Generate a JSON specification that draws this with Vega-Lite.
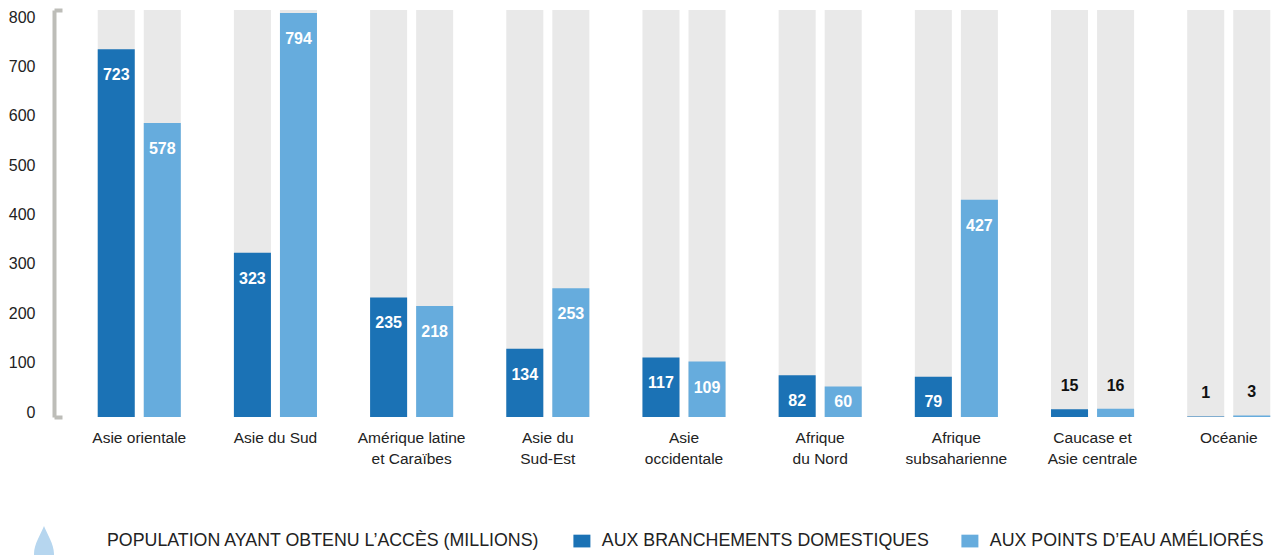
{
  "$schema": "https://vega.github.io/schema/vega-lite/v6.json",
  "autosize": "none",
  "width": 1178,
  "height": 407,
  "padding": {"left": 95, "top": 10, "right": 0, "bottom": 138},
  "background": "white",
  "config": {
    "view": {"stroke": null},
    "font": "Liberation Sans, sans-serif"
  },
  "data": {
    "values": [
      {"region": "Asie orientale", "series": "AUX BRANCHEMENTS DOMESTIQUES", "value": 723},
      {"region": "Asie orientale", "series": "AUX POINTS D’EAU AMÉLIORÉS", "value": 578},
      {"region": "Asie du Sud", "series": "AUX BRANCHEMENTS DOMESTIQUES", "value": 323},
      {"region": "Asie du Sud", "series": "AUX POINTS D’EAU AMÉLIORÉS", "value": 794},
      {"region": "Amérique latine et Caraïbes", "series": "AUX BRANCHEMENTS DOMESTIQUES", "value": 235},
      {"region": "Amérique latine et Caraïbes", "series": "AUX POINTS D’EAU AMÉLIORÉS", "value": 218},
      {"region": "Asie du Sud-Est", "series": "AUX BRANCHEMENTS DOMESTIQUES", "value": 134},
      {"region": "Asie du Sud-Est", "series": "AUX POINTS D’EAU AMÉLIORÉS", "value": 253},
      {"region": "Asie occidentale", "series": "AUX BRANCHEMENTS DOMESTIQUES", "value": 117},
      {"region": "Asie occidentale", "series": "AUX POINTS D’EAU AMÉLIORÉS", "value": 109},
      {"region": "Afrique du Nord", "series": "AUX BRANCHEMENTS DOMESTIQUES", "value": 82},
      {"region": "Afrique du Nord", "series": "AUX POINTS D’EAU AMÉLIORÉS", "value": 60},
      {"region": "Afrique subsaharienne", "series": "AUX BRANCHEMENTS DOMESTIQUES", "value": 79},
      {"region": "Afrique subsaharienne", "series": "AUX POINTS D’EAU AMÉLIORÉS", "value": 427},
      {"region": "Caucase et Asie centrale", "series": "AUX BRANCHEMENTS DOMESTIQUES", "value": 15},
      {"region": "Caucase et Asie centrale", "series": "AUX POINTS D’EAU AMÉLIORÉS", "value": 16},
      {"region": "Océanie", "series": "AUX BRANCHEMENTS DOMESTIQUES", "value": 1},
      {"region": "Océanie", "series": "AUX POINTS D’EAU AMÉLIORÉS", "value": 3}
    ]
  },
  "encoding": {
    "x": {
      "field": "region", "type": "nominal", "sort": null,
      "scale": {"paddingInner": 0.39, "paddingOuter": 0.02},
      "axis": {
        "title": null, "domain": false, "ticks": false, "labelAngle": 0,
        "labelPadding": 13, "labelFontSize": 15.5, "labelColor": "#222222",
        "labelLineHeight": 21, "labelBaseline": "top",
        "labelExpr": "{'Amérique latine et Caraïbes': ['Amérique latine', 'et Caraïbes'], 'Asie du Sud-Est': ['Asie du', 'Sud-Est'], 'Asie occidentale': ['Asie', 'occidentale'], 'Afrique du Nord': ['Afrique', 'du Nord'], 'Afrique subsaharienne': ['Afrique', 'subsaharienne'], 'Caucase et Asie centrale': ['Caucase et', 'Asie centrale']}[datum.value] || datum.value"
      }
    },
    "xOffset": {
      "field": "series", "type": "nominal", "sort": null,
      "scale": {"paddingInner": 0.196, "paddingOuter": 0}
    }
  },
  "layer": [
    {
      "mark": {"type": "bar", "color": "#e9e9e9"},
      "encoding": {
        "y": {
          "datum": 800, "type": "quantitative",
          "scale": {"domain": [0, 800], "nice": false},
          "axis": null
        }
      }
    },
    {
      "mark": {"type": "bar"},
      "encoding": {
        "y": {
          "field": "value", "type": "quantitative",
          "scale": {"domain": [0, 800], "nice": false},
          "axis": {
            "orient": "left", "title": null, "labels": false, "grid": false,
            "values": [0, 800], "offset": 41,
            "domain": true, "domainColor": "#bdbdb8", "domainWidth": 4,
            "ticks": true, "tickSize": -8, "tickWidth": 4, "tickColor": "#bdbdb8"
          }
        },
        "color": {
          "field": "series", "type": "nominal", "sort": null,
          "scale": {
            "domain": ["AUX BRANCHEMENTS DOMESTIQUES", "AUX POINTS D’EAU AMÉLIORÉS"],
            "range": ["#1b72b5", "#66acdd"]
          },
          "legend": {
            "orient": "none", "direction": "horizontal",
            "legendX": 12, "legendY": 522,
            "title": "POPULATION AYANT OBTENU L’ACCÈS (MILLIONS)",
            "titleOrient": "left", "titleFontWeight": "normal", "titleFontSize": 17.8,
            "titleColor": "#222222", "titlePadding": 33, "titleBaseline": "middle",
            "titleLimit": 2000, "labelLimit": 2000,
            "labelFontSize": 17.8, "labelColor": "#222222", "labelOffset": 11,
            "columnPadding": 32,
            "symbolType": "M-1,-0.75H1V0.75H-1Z", "symbolSize": 289,
            "symbolStrokeWidth": 0, "symbolOpacity": 1
          }
        }
      }
    },
    {
      "transform": [{"filter": "datum.value > 500"}],
      "mark": {"type": "point", "opacity": 0, "filled": true, "color": "#b6d6ef"},
      "encoding": {
        "y": {
          "field": "value", "type": "quantitative",
          "scale": {"domain": [-10.1, 814.2], "nice": false, "zero": false},
          "axis": {
            "orient": "left", "title": null, "domain": false, "ticks": false, "tickSize": 0,
            "grid": false, "values": [0, 100, 200, 300, 400, 500, 600, 700, 800],
            "labelPadding": 60, "labelFontSize": 16, "labelColor": "#222222"
          }
        },
        "shape": {
          "datum": "goutte",
          "scale": {"range": ["M0,-1C0.15,-0.6 0.5,-0.1 0.5,0.4A0.5,0.5 0 0 1 -0.5,0.4C-0.5,-0.1 -0.15,-0.6 0,-1Z"]},
          "legend": {
            "orient": "none", "legendX": -71, "legendY": 516, "title": null,
            "labelExpr": "''", "symbolSize": 1600, "symbolFillColor": "#b6d6ef",
            "symbolStrokeWidth": 0, "symbolOpacity": 1, "padding": 0
          }
        }
      }
    },
    {
      "transform": [
        {"filter": "datum.value >= 30"},
        {"calculate": "max(datum.value, 80)", "as": "labelPos"}
      ],
      "mark": {"type": "text", "color": "white", "fontWeight": "bold", "fontSize": 16, "baseline": "middle", "dy": 26},
      "encoding": {
        "y": {"field": "labelPos", "type": "quantitative", "scale": {"domain": [0, 800], "nice": false}, "axis": null},
        "text": {"field": "value", "type": "quantitative"}
      }
    },
    {
      "transform": [{"filter": "datum.value < 30"}],
      "mark": {"type": "text", "color": "#111111", "fontWeight": "bold", "fontSize": 16, "baseline": "middle", "dy": -23},
      "encoding": {
        "y": {"field": "value", "type": "quantitative", "scale": {"domain": [0, 800], "nice": false}, "axis": null},
        "text": {"field": "value", "type": "quantitative"}
      }
    }
  ],
  "resolve": {"axis": {"y": "independent"}, "scale": {"y": "independent"}}
}
